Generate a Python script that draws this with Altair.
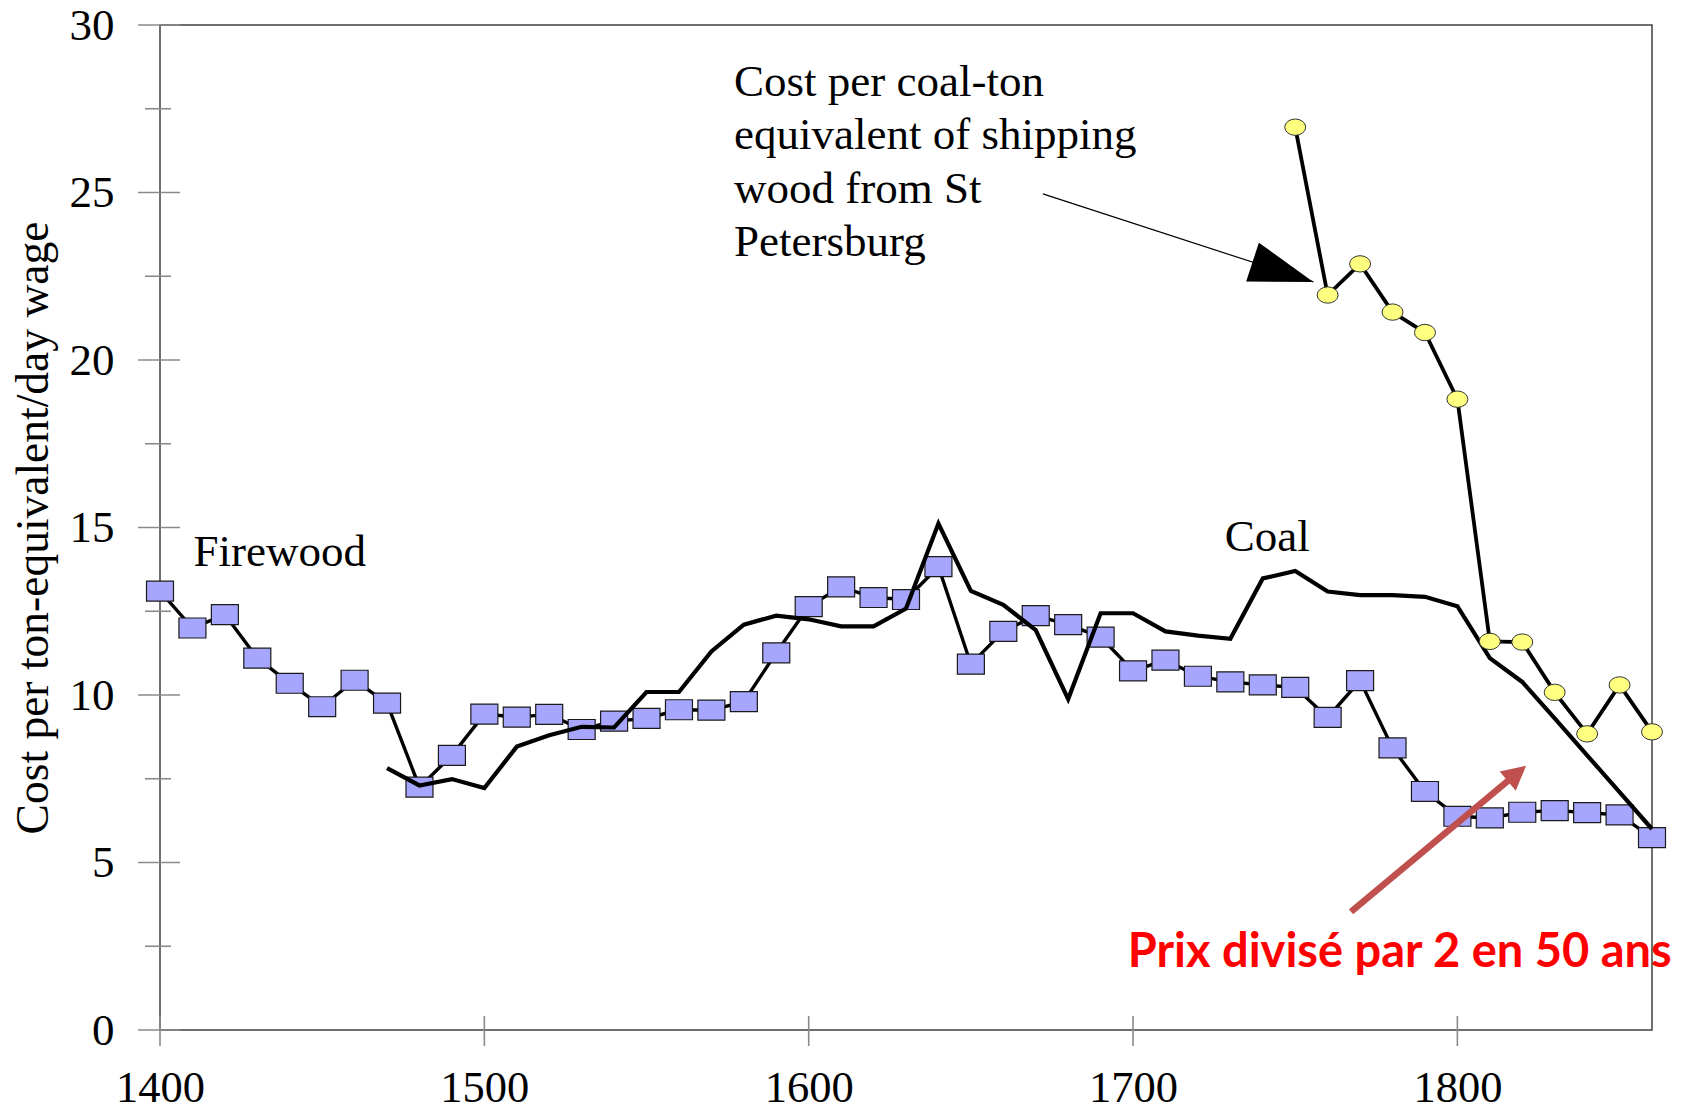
import math
import altair as alt
import pandas as pd

# ---------------- data ----------------
fw_years = [1400, 1410, 1420, 1430, 1440, 1450, 1460, 1470, 1480, 1490,
            1500, 1510, 1520, 1530, 1540, 1550, 1560, 1570, 1580, 1590,
            1600, 1610, 1620, 1630, 1640, 1650, 1660, 1670, 1680, 1690,
            1700, 1710, 1720, 1730, 1740, 1750, 1760, 1770, 1780, 1790,
            1800, 1810, 1820, 1830, 1840, 1850, 1860]
firewood = [13.1, 12.0, 12.4, 11.1, 10.35, 9.65, 10.44, 9.76, 7.25, 8.2,
            9.43, 9.34, 9.42, 8.97, 9.22, 9.3, 9.56, 9.55, 9.8, 11.26,
            12.64, 13.23, 12.91, 12.85, 13.83, 10.92, 11.9, 12.37, 12.1, 11.73,
            10.72, 11.04, 10.56, 10.39, 10.3, 10.23, 9.33, 10.43, 8.42, 7.12,
            6.38, 6.33, 6.5, 6.55, 6.49, 6.42, 5.74]

coal_years = [1470, 1480, 1490, 1500, 1510, 1520, 1530, 1540, 1550, 1560,
              1570, 1580, 1590, 1600, 1610, 1620, 1630, 1640, 1650, 1660,
              1670, 1680, 1690, 1700, 1710, 1720, 1730, 1740, 1750, 1760,
              1770, 1780, 1790, 1800, 1810, 1820, 1830, 1840, 1850, 1860]
coal = [7.82, 7.3, 7.49, 7.22, 8.46, 8.8, 9.05, 9.03, 10.09, 10.09,
        11.3, 12.1, 12.37, 12.26, 12.05, 12.05, 12.58, 15.12, 13.11, 12.69,
        11.94, 9.88, 12.44, 12.44, 11.9, 11.77, 11.68, 13.48, 13.7, 13.09,
        12.98, 12.98, 12.93, 12.65, 11.1, 10.39, 9.3, 8.2, 7.1, 6.0]

ship_years = [1750, 1760, 1770, 1780, 1790, 1800, 1810, 1820, 1830, 1840, 1850, 1860]
shipping = [26.95, 21.94, 22.87, 21.43, 20.82, 18.83, 11.6, 11.58, 10.08, 8.84, 10.3, 8.9]

y_major = [0, 5, 10, 15, 20, 25, 30]
y_minor = [2.5, 7.5, 12.5, 17.5, 22.5, 27.5]
x_major = [1400, 1500, 1600, 1700, 1800]

y_title = "Cost per ton-equivalent/day wage"
firewood_label = "Firewood"
coal_label = "Coal"
ship_label = ["Cost per coal-ton", "equivalent of shipping", "wood from St", "Petersburg"]
red_label = "Prix divisé par 2 en 50 ans"

# annotation anchors in data units (year, value)
firewood_label_at = (1410.3, 13.84)
coal_label_at = (1728.3, 14.31)
ship_label_at = (1577.0, 27.89)
ship_arrow_from = (1672.2, 24.96)
ship_arrow_to = (1755.6, 22.33)
red_label_at = (1698.4, 2.31)
red_arrow_from = (1767.2, 3.53)
red_arrow_to = (1821.2, 7.89)

# ---------------- layout ----------------
W, H = 1492, 1005
X0, X1 = 1400, 1860
Y0, Y1 = 0, 30
PX_YEAR = W / (X1 - X0)
PX_UNIT = H / (Y1 - Y0)

SERIF = "Liberation Serif"
TICK = "#8a8a8a"
FRAME = "#404040"

xs = alt.Scale(domain=[X0, X1], nice=False, zero=False)
ys = alt.Scale(domain=[Y0, Y1], nice=False, zero=False)

AX_X = alt.Axis(
    values=x_major, format="d", title=None, grid=False, domain=False,
    ticks=False, tickSize=0, labelFont=SERIF, labelFontSize=44.5,
    labelColor="black", labelPadding=36, labelFlush=False)
AX_Y = alt.Axis(
    values=y_major, title=y_title, grid=False, domain=False,
    ticks=False, tickSize=0, labelFont=SERIF, labelFontSize=45,
    labelColor="black", labelPadding=46, labelFlush=False,
    titleFont=SERIF, titleFontSize=45.5, titleFontWeight="normal",
    titleColor="black", titleAngle=270, titleX=-127, titleY=H / 2,
    titleAlign="center", titleBaseline="middle")


def X(field="year"):
    return alt.X(f"{field}:Q", scale=xs, axis=AX_X)


def Y(field="value"):
    return alt.Y(f"{field}:Q", scale=ys, axis=AX_Y)


def angle_of(p_from, p_to):
    dx = (p_to[0] - p_from[0]) * PX_YEAR
    dy = -(p_to[1] - p_from[1]) * PX_UNIT
    return math.degrees(math.atan2(dy, dx)) % 360


fw_df = pd.DataFrame({"year": fw_years, "value": firewood})
coal_df = pd.DataFrame({"year": coal_years, "value": coal})
ship_df = pd.DataFrame({"year": ship_years, "value": shipping})

ytick_major = alt.Chart(pd.DataFrame({"value": y_major})).mark_rule(
    color=TICK, strokeWidth=1.6).encode(y=Y(), x=alt.value(-22), x2=alt.value(20))
ytick_minor = alt.Chart(pd.DataFrame({"value": y_minor})).mark_rule(
    color=TICK, strokeWidth=1.6).encode(y=Y(), x=alt.value(-15), x2=alt.value(11))
xtick_major = alt.Chart(pd.DataFrame({"year": x_major})).mark_rule(
    color=TICK, strokeWidth=1.6).encode(x=X(), y=alt.value(H - 14), y2=alt.value(H + 16))

fw_line = alt.Chart(fw_df).mark_line(color="black", strokeWidth=3.4).encode(x=X(), y=Y())
rect_shape = "M-1,-0.74L1,-0.74L1,0.74L-1,0.74Z"
fw_pts = alt.Chart(fw_df).mark_point(
    shape=rect_shape, size=27 * 27, filled=True, fill="#A6A6FF",
    stroke="#1a1a1a", strokeWidth=1.2, opacity=1).encode(x=X(), y=Y())

coal_line = alt.Chart(coal_df).mark_line(color="black", strokeWidth=4.2).encode(x=X(), y=Y())

ship_line = alt.Chart(ship_df).mark_line(color="black", strokeWidth=3.8).encode(x=X(), y=Y())
n = 16
ell = "M" + "L".join(
    f"{math.cos(2 * math.pi * k / n):.3f},{0.78 * math.sin(2 * math.pi * k / n):.3f}"
    for k in range(n)) + "Z"
ship_pts = alt.Chart(ship_df).mark_point(
    shape=ell, size=21 * 21, filled=True, fill="#FFFF80",
    stroke="#333333", strokeWidth=1, opacity=1).encode(x=X(), y=Y())


def text_layer(label, at, **mk):
    df = pd.DataFrame({"year": [at[0]], "value": [at[1]]})
    return alt.Chart(df).mark_text(**mk).encode(x=X(), y=Y(), text=alt.value(label))


t_fire = text_layer(firewood_label, firewood_label_at, font=SERIF, fontSize=45,
                    align="left", baseline="alphabetic", color="black")
t_coal = text_layer(coal_label, coal_label_at, font=SERIF, fontSize=45,
                    align="left", baseline="alphabetic", color="black")
t_ship = text_layer(ship_label, ship_label_at, font=SERIF, fontSize=45,
                    align="left", baseline="alphabetic", color="black", lineHeight=53.5)
t_red = text_layer(red_label, red_label_at, font="Lato", fontSize=47, fontWeight="bold",
                   align="left", baseline="middle", color="#FF0000")

# black arrow
arrow_df = pd.DataFrame({"year": [ship_arrow_from[0]], "value": [ship_arrow_from[1]],
                         "year2": [ship_arrow_to[0]], "value2": [ship_arrow_to[1]]})
black_line = alt.Chart(arrow_df).mark_rule(color="black", strokeWidth=1.2).encode(
    x=X(), y=Y(), x2="year2:Q", y2="value2:Q")
black_head = alt.Chart(pd.DataFrame({"year": [ship_arrow_to[0]], "value": [ship_arrow_to[1]]})
                       ).mark_point(shape="M0,0L-2,-0.64L-2,0.64Z", size=64 * 64, filled=True,
                                    color="black", opacity=1,
                                    angle=angle_of(ship_arrow_from, ship_arrow_to)
                                    ).encode(x=X(), y=Y())

# red arrow: shaft stops at the base of the head
ang_r = angle_of(red_arrow_from, red_arrow_to)
head_len = 22
end_year = red_arrow_to[0] - head_len * math.cos(math.radians(ang_r)) / PX_YEAR
end_val = red_arrow_to[1] + head_len * math.sin(math.radians(ang_r)) / PX_UNIT
red_df = pd.DataFrame({"year": [red_arrow_from[0]], "value": [red_arrow_from[1]],
                       "year2": [end_year], "value2": [end_val]})
red_line = alt.Chart(red_df).mark_rule(color="#C0504D", strokeWidth=6.5).encode(
    x=X(), y=Y(), x2="year2:Q", y2="value2:Q")
red_head = alt.Chart(pd.DataFrame({"year": [red_arrow_to[0]], "value": [red_arrow_to[1]]})
                     ).mark_point(shape="M0,0L-2,-1.04L-2,1.04Z", size=24 * 24, filled=True,
                                  color="#C0504D", opacity=1, angle=ang_r
                                  ).encode(x=X(), y=Y())

chart = alt.layer(
    ytick_major, ytick_minor, xtick_major,
    fw_line, fw_pts, coal_line, ship_line, ship_pts,
    t_fire, t_coal, t_ship, black_line, black_head,
    red_line, red_head, t_red,
).properties(
    width=W, height=H,
    autosize=alt.AutoSizeParams(type="none"),
    padding={"left": 152, "top": 17, "right": 25, "bottom": 81},
    background="white",
).configure_view(stroke=FRAME, strokeWidth=1.5)

chart.save("out.html", embed_options={"renderer": "svg", "actions": False})
